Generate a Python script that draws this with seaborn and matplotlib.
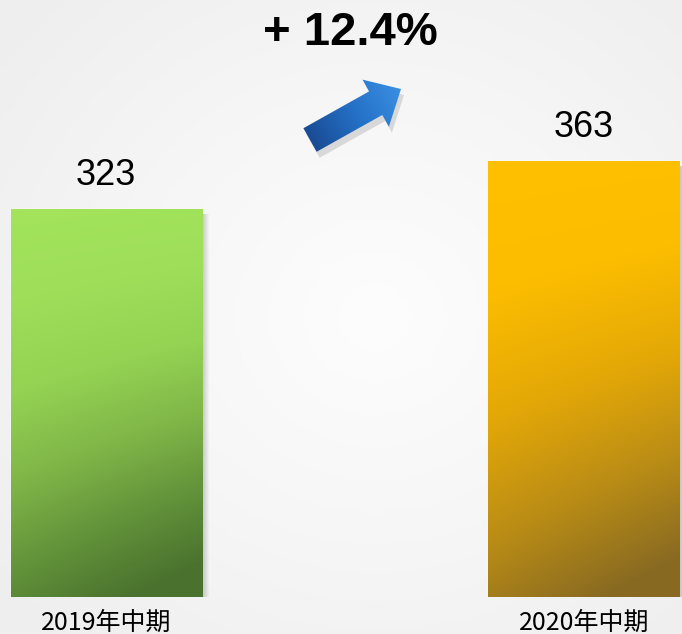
import numpy as np
import matplotlib
matplotlib.use('Agg')
import matplotlib.pyplot as plt
import seaborn as sns
from matplotlib.colors import LinearSegmentedColormap
from matplotlib.patches import FancyArrow, Rectangle

# Data
periods = ['2019年中期', '2020年中期']
values = [323, 363]
growth_label = '+ 12.4%'
bar_colors = ['#9BDD57', '#FFC000']

sns.set_theme(style='white')
plt.rcParams['font.family'] = ['Liberation Sans', 'DejaVu Sans']

fig = plt.figure(figsize=(6.82, 6.34), dpi=100)

# soft grey background, lighter in the middle
bg = fig.add_axes([0, 0, 1, 1], zorder=-2)
yy, xx = np.mgrid[0:1:200j, 0:1:200j]
r = np.sqrt(((xx - 0.55) / 0.8) ** 2 + ((yy - 0.5) / 0.8) ** 2)
bg_cmap = LinearSegmentedColormap.from_list('bg', ['#FDFDFD', '#F6F6F6', '#EEEEEE'])
bg.imshow(r, cmap=bg_cmap, extent=[0, 1, 0, 1], aspect='auto', vmin=0, vmax=0.9)
bg.axis('off')

# Bars
ax = fig.add_axes([0, 0.0584, 1, 0.9416])
ax.patch.set_alpha(0)
sns.barplot(x=periods, y=values, hue=periods, palette=bar_colors, legend=False,
            width=0.4, saturation=1, ax=ax)

green_cmap = LinearSegmentedColormap.from_list(
    'g', ['#A3E45C', '#9EDE59', '#94D353', '#80B648', '#62923A', '#4A722E'])
gold_cmap = LinearSegmentedColormap.from_list(
    'y', ['#FFC000', '#FCBD00', '#E4A807', '#B98C16', '#876922'])

v = np.linspace(0, 1, 200)[:, None]
u = np.linspace(0, 1, 60)[None, :]
t = np.clip(0.85 * v + 0.18 * u * (0.3 + v), 0, 1)

px = 1 / 478.0  # one pixel in x data units
for patch, cmap in zip(ax.patches, [green_cmap, gold_cmap]):
    x0, w, h = patch.get_x(), patch.get_width(), patch.get_height()
    # soft shadow on the right edge
    for k in range(7):
        ax.add_patch(Rectangle((x0 + w + k * px, 0), px, h - 4,
                               color='#555555', alpha=0.3 * (1 - k / 7), lw=0, zorder=1))
    patch.set_facecolor('none')
    im = ax.imshow(t, cmap=cmap, extent=[x0, x0 + w, 0, h], aspect='auto', zorder=2)
    im.set_clip_path(patch)

for i, val in enumerate(values):
    ax.text(i, val + 20, f'{val}', ha='center', va='baseline', fontsize=26, color='black')

ax.set_xlim(-0.222, 1.205)
ax.set_ylim(0, 497.5)
ax.set_xticks([0, 1])
ax.set_xticklabels(periods, fontsize=18, color='black',
                   family=['Noto Sans CJK SC', 'DejaVu Sans'])
ax.tick_params(axis='x', length=0, pad=9)
ax.set_yticks([])
ax.set_xlabel('')
ax.set_ylabel('')
sns.despine(ax=ax, left=True, bottom=True)

# Growth arrow and label (pixel coordinates)
ov = fig.add_axes([0, 0, 1, 1], zorder=3)
ov.set_xlim(0, 682)
ov.set_ylim(634, 0)
ov.axis('off')

shadow = FancyArrow(313, 146, 91, -51, width=27, head_width=54, head_length=29,
                    length_includes_head=True, fc='black', ec='none', alpha=0.12)
ov.add_patch(shadow)
arrow = FancyArrow(310, 140, 91, -51, width=27, head_width=54, head_length=29,
                   length_includes_head=True, fc='none', ec='none')
ov.add_patch(arrow)
X, Y = np.meshgrid(np.linspace(295, 410, 120), np.linspace(72, 160, 90))
proj = ((X - 310) * 91 + (Y - 140) * -51) / (91 ** 2 + 51 ** 2)
blue_cmap = LinearSegmentedColormap.from_list('b', ['#1A4B94', '#2470C6', '#3A8FE2'])
aim = ov.imshow(proj, cmap=blue_cmap, extent=[295, 410, 160, 72], origin='upper',
                aspect='auto', vmin=0, vmax=1, zorder=2)
aim.set_clip_path(arrow)
ov.set_xlim(0, 682)
ov.set_ylim(634, 0)

ov.text(350, 33, growth_label, ha='center', va='center', fontsize=34,
        fontweight='bold', color='black')

fig.savefig('out.png', dpi=100)
